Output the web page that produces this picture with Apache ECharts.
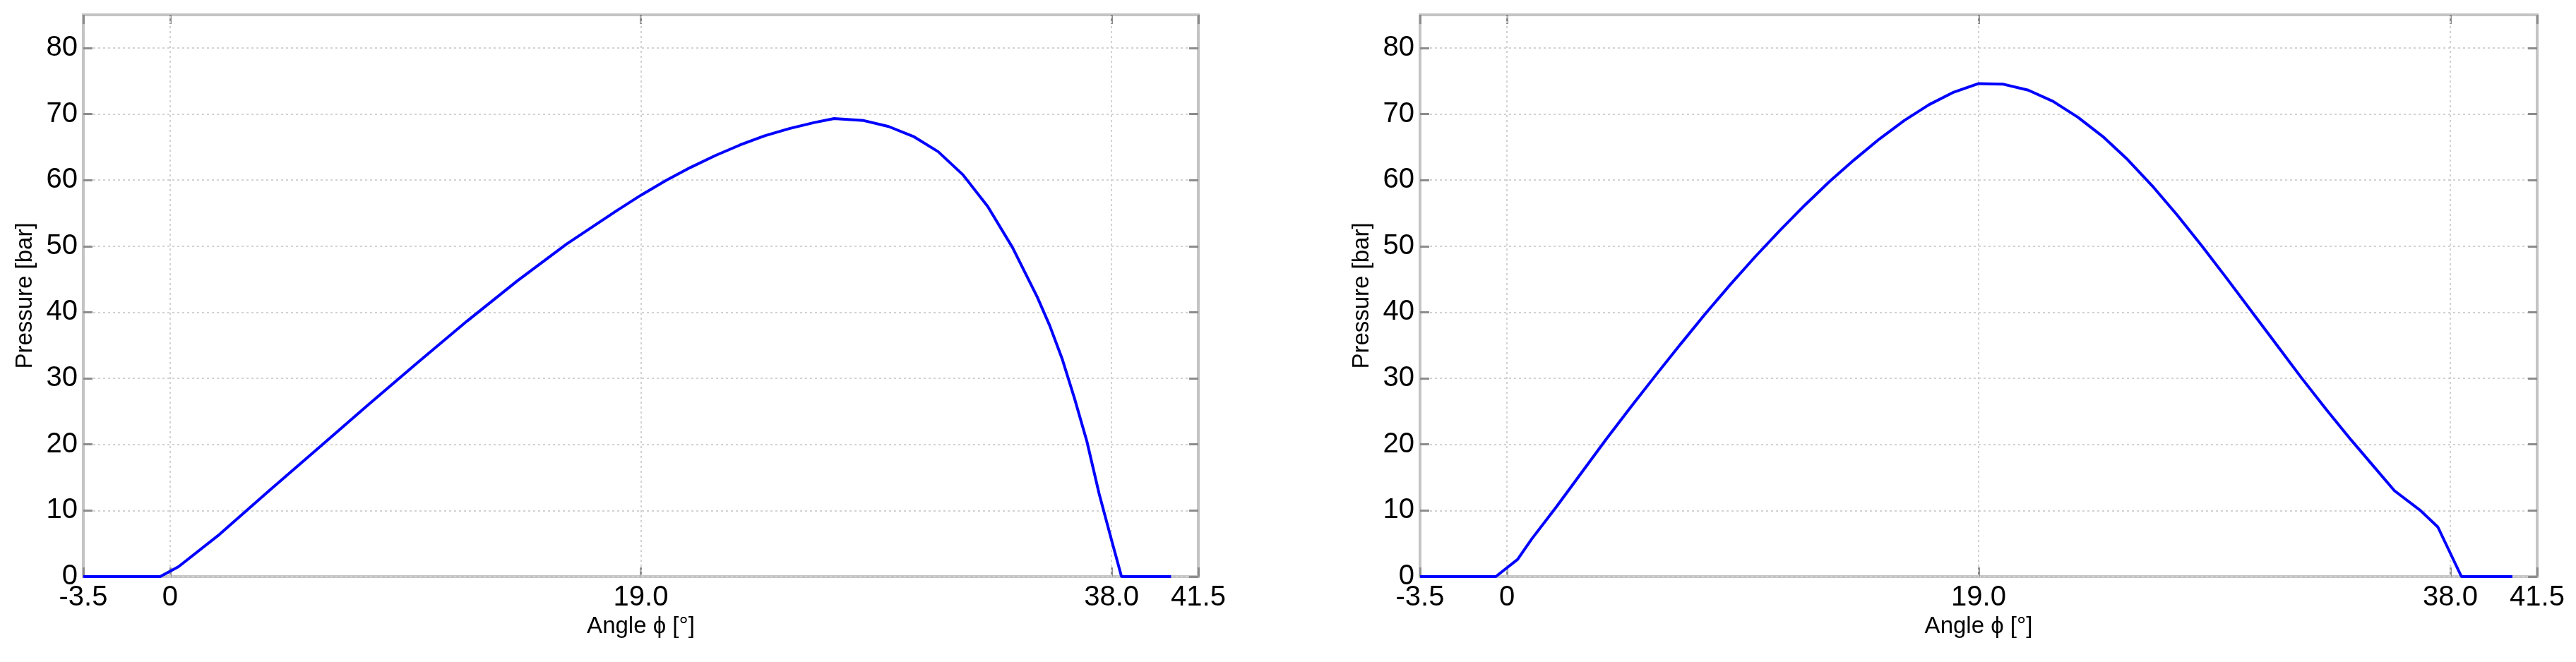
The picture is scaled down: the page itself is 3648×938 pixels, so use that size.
<!DOCTYPE html>
<html>
<head>
<meta charset="utf-8">
<script src="https://cdn.jsdelivr.net/npm/echarts@6/dist/echarts.min.js"></script>
<style>
  html, body { margin: 0; padding: 0; background: #fff; }
  #container { width: 3648px; height: 938px; }
</style>
</head>
<body>
<div id="container"></div>
<script>
// tick values (both panels share them)
const xTicks = [-3.5, 0, 19.0, 38.0, 41.5]
const xGridLines = [0, 19.0, 38.0]
const yTicks = [0, 10, 20, 30, 40, 50, 60, 70, 80]

// left panel: pressure vs angle
const leftAngle = [-3.5, -0.4, 0.34, 2, 4, 6, 8, 10, 12, 14, 16, 18, 19, 20, 21, 22, 23, 24, 25, 26, 26.8, 28, 29, 30, 31, 32, 33, 34, 35, 35.5, 36, 36.5, 37, 37.5, 38, 38.4, 40.4]
const leftPressure = [0, 0, 1.5, 6.4, 13.0, 19.5, 26.0, 32.4, 38.7, 44.7, 50.3, 55.3, 57.7, 59.9, 61.9, 63.7, 65.3, 66.7, 67.8, 68.7, 69.3, 69.0, 68.1, 66.6, 64.3, 60.8, 56.0, 49.8, 42.3, 38.0, 33.0, 27.0, 20.5, 12.5, 5.5, 0, 0]

// right panel: pressure vs angle
const rightAngle = [-3.5, -0.45, 0.43, 1, 2, 3, 4, 5, 6, 7, 8, 9, 10, 11, 12, 13, 14, 15, 16, 17, 18, 19, 20, 21, 22, 23, 24, 25, 26, 27, 28, 29, 30, 31, 32, 33, 34, 35, 35.75, 36.8, 37.5, 38.45, 40.5]
const rightPressure = [0, 0, 2.6, 5.7, 10.6, 15.7, 20.8, 25.7, 30.5, 35.2, 39.8, 44.2, 48.4, 52.4, 56.2, 59.8, 63.1, 66.2, 69.0, 71.4, 73.3, 74.6, 74.5, 73.6, 71.9, 69.5, 66.6, 63.1, 59.1, 54.7, 50.0, 45.1, 40.1, 35.1, 30.1, 25.3, 20.7, 16.3, 13.0, 10.0, 7.5, 0, 0]

const fontFamily = 'Liberation Sans, Arial, sans-serif'
const boxColor = '#c4c4c4'
const tickColor = '#8c8c8c'
const gridColor = '#d2d2d2'

function pairs (xs, ys) {
  return xs.map((x, i) => [x, ys[i]])
}

const grids = [
  { left: 118, right: 1951, top: 21, bottom: 121 },
  { left: 2011, right: 55, top: 21, bottom: 121 }
]

const xAxis = []
const yAxis = []
const series = []

grids.forEach((g, i) => {
  // bottom x axis with labels
  xAxis.push({
    type: 'value',
    gridIndex: i,
    min: -3.5,
    max: 41.5,
    position: 'bottom',
    name: 'Angle \u03d5 [\u00b0]',
    nameLocation: 'middle',
    nameGap: 50,
    nameTextStyle: { fontSize: 33, color: '#000', fontFamily: fontFamily },
    axisLine: { show: false, onZero: false },
    axisTick: { show: true, inside: true, length: 13, customValues: xTicks, lineStyle: { color: tickColor, width: 3 } },
    axisLabel: {
      customValues: xTicks,
      fontSize: 40,
      color: '#000',
      fontFamily: fontFamily,
      margin: 10,
      formatter: function (v) { return v === 0 ? '0' : v.toFixed(1) }
    },
    splitLine: { show: false }
  })
  // top x axis, ticks only
  xAxis.push({
    type: 'value',
    gridIndex: i,
    min: -3.5,
    max: 41.5,
    position: 'top',
    axisLine: { show: false, onZero: false },
    axisTick: { show: true, inside: true, length: 13, customValues: xTicks, lineStyle: { color: tickColor, width: 3 } },
    axisLabel: { show: false },
    splitLine: { show: false }
  })
  // left y axis with labels
  yAxis.push({
    type: 'value',
    gridIndex: i,
    min: 0,
    max: 85,
    interval: 10,
    position: 'left',
    name: 'Pressure [bar]',
    nameLocation: 'middle',
    nameGap: 66,
    nameRotate: 90,
    nameTextStyle: { fontSize: 33, color: '#000', fontFamily: fontFamily },
    axisLine: { show: false, onZero: false },
    axisTick: { show: true, inside: true, length: 13, customValues: yTicks, lineStyle: { color: tickColor, width: 3 } },
    axisLabel: { customValues: yTicks, fontSize: 40, color: '#000', fontFamily: fontFamily, margin: 8 },
    splitLine: { show: true, lineStyle: { color: gridColor, width: 2, type: [3, 4] } }
  })
  // right y axis, ticks only
  yAxis.push({
    type: 'value',
    gridIndex: i,
    min: 0,
    max: 85,
    interval: 10,
    position: 'right',
    axisLine: { show: false, onZero: false },
    axisTick: { show: true, inside: true, length: 13, customValues: yTicks, lineStyle: { color: tickColor, width: 3 } },
    axisLabel: { show: false },
    splitLine: { show: false }
  })
  // vertical grid lines at the angle ticks
  series.push({
    type: 'line',
    xAxisIndex: i * 2,
    yAxisIndex: i * 2,
    data: [],
    silent: true,
    z: 1,
    markLine: {
      silent: true,
      symbol: ['none', 'none'],
      label: { show: false },
      lineStyle: { color: gridColor, width: 2, type: [3, 4] },
      data: xGridLines.map(v => ({ xAxis: v }))
    }
  })
})

series.push({
  name: 'left',
  type: 'line',
  xAxisIndex: 0,
  yAxisIndex: 0,
  data: pairs(leftAngle, leftPressure),
  showSymbol: false,
  z: 5,
  lineStyle: { color: '#0000ff', width: 4 },
  itemStyle: { color: '#0000ff' }
})
series.push({
  name: 'right',
  type: 'line',
  xAxisIndex: 2,
  yAxisIndex: 2,
  data: pairs(rightAngle, rightPressure),
  showSymbol: false,
  z: 5,
  lineStyle: { color: '#0000ff', width: 4 },
  itemStyle: { color: '#0000ff' }
})

const option = {
  animation: false,
  backgroundColor: '#ffffff',
  grid: grids.map(g => Object.assign({ show: true, borderColor: boxColor, borderWidth: 4, backgroundColor: 'transparent' }, g)),
  xAxis: xAxis,
  yAxis: yAxis,
  series: series
}

const myChart = echarts.init(document.getElementById('container'))
myChart.setOption(option)
window.addEventListener('resize', () => {
  myChart.resize()
})
</script>
</body>
</html>
